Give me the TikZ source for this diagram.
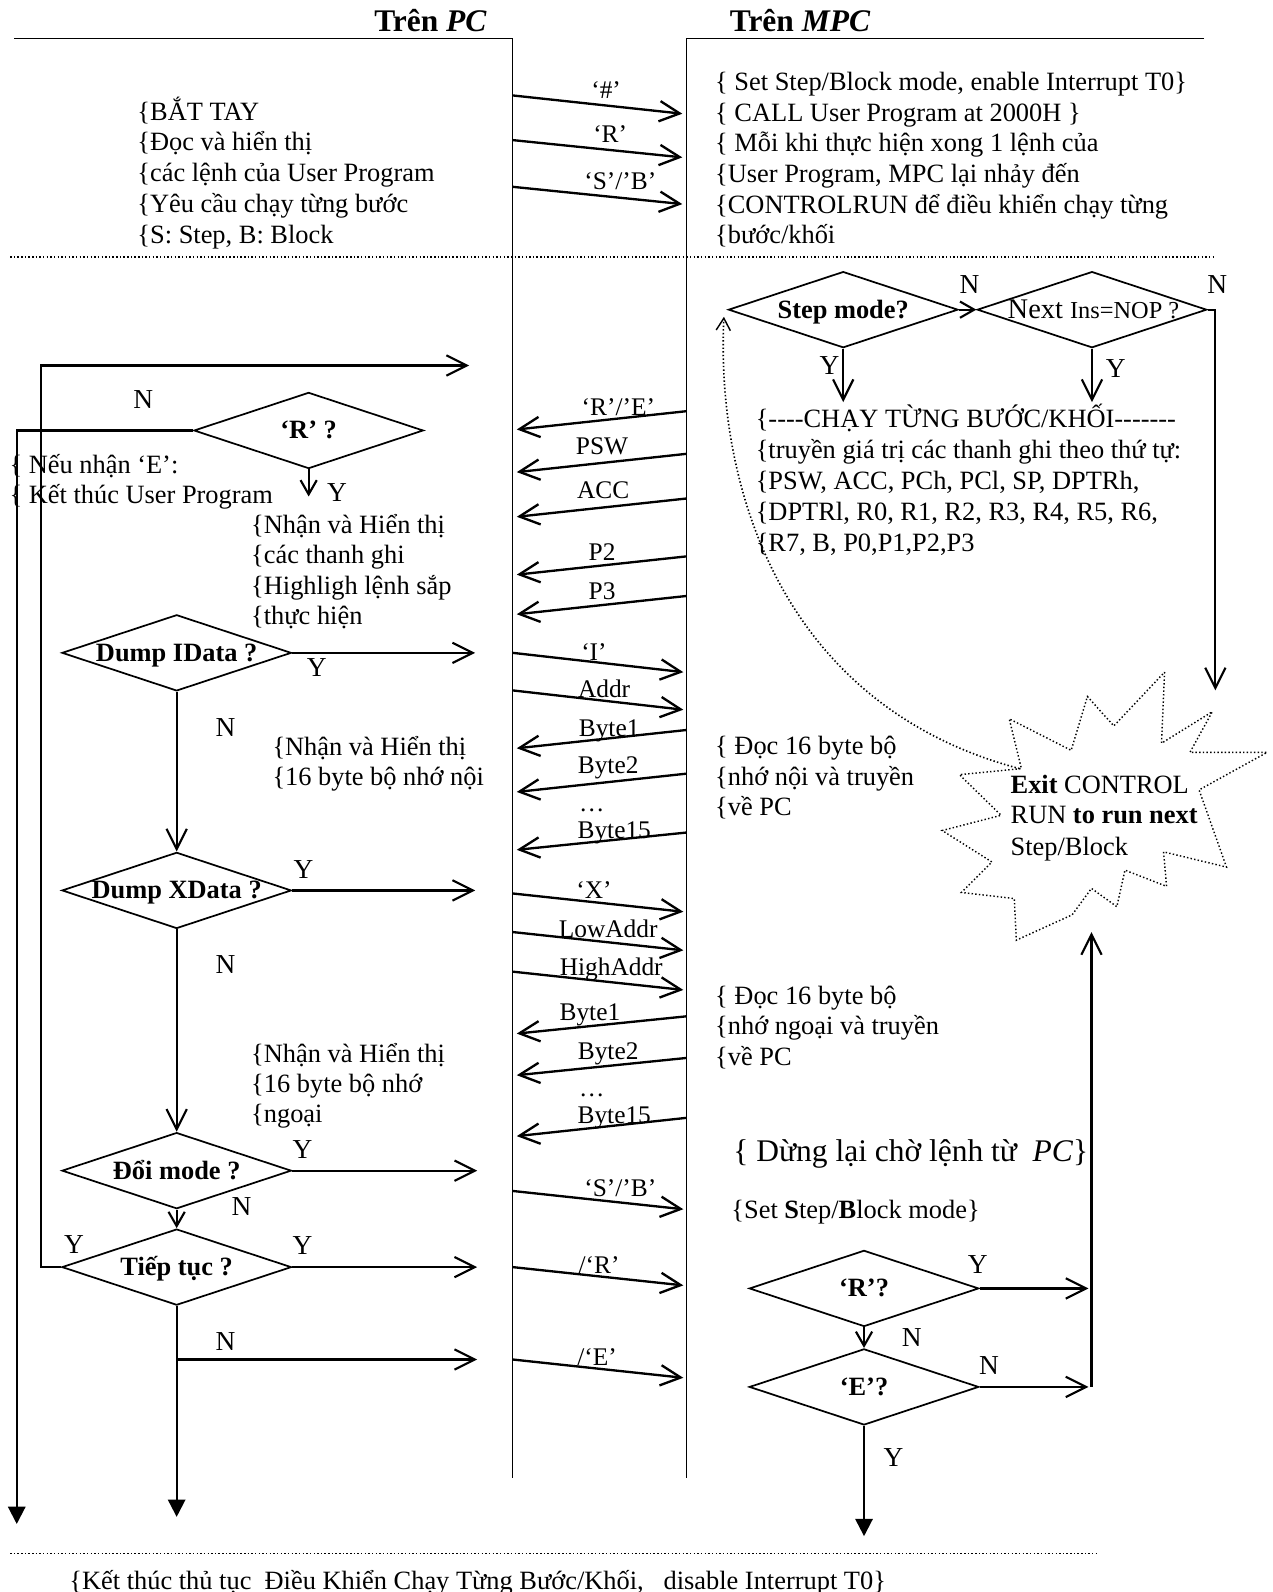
\documentclass[tikz,border=0pt]{standalone}
\usepackage{fontspec}
\setmainfont{Liberation Serif}
\usetikzlibrary{arrows.meta,shapes.geometric}
\newcommand\dsh{\hbox{-}}
\begin{document}
\begin{tikzpicture}[x=0.5pt,y=-0.5pt,
  every node/.style={inner sep=0pt},
  tl/.style={font=\fontsize{13}{15}\selectfont,anchor=west,text height=10.5pt,text depth=2.2pt},
  lab/.style={font=\fontsize{12.5}{15}\selectfont,text height=10.2pt,text depth=2.1pt},
  yn/.style={font=\fontsize{13.5}{15}\selectfont,text height=10.5pt,text depth=2.1pt},
  dia/.style={draw,diamond,minimum width=113pt,minimum height=37.5pt,line width=0.85pt},
  dtext/.style={font=\bfseries\fontsize{13}{15}\selectfont,text height=10.5pt,text depth=2.2pt},
  life/.style={line width=0.65pt},
  msg/.style={line width=1.15pt,-{Straight Barb[length=10pt,width=10pt]}},
  flow/.style={line width=1.05pt},
  farr/.style={flow,-{Straight Barb[length=10pt,width=10pt]}},
  sarr/.style={flow,-{Straight Barb[length=7pt,width=8pt]}},
  tarr/.style={flow,-{Triangle[length=8.5pt,width=8.5pt]}},
  dots/.style={line width=0.7pt,dash pattern=on 0.7pt off 1.1pt},
]
\useasboundingbox (0,0) rectangle (1253,1568);

% headers and lifelines
\node[font=\bfseries\fontsize{15.5}{18}\selectfont] (h1) at (424,20) {Trên \textit{PC}};
\node[font=\bfseries\fontsize{15.5}{18}\selectfont] (h2) at (788,20) {Trên \textit{MPC}};
\coordinate (pl0) at (14,38); \coordinate (pl1) at (505,38); \coordinate (pl2) at (505,1456);
\coordinate (ml0) at (1186,38); \coordinate (ml1) at (676,38); \coordinate (ml2) at (676,1456);
\draw[life] (pl0) -- (pl1) -- (pl2);
\draw[life] (ml0) -- (ml1) -- (ml2);
\coordinate (dl0) at (10,253); \coordinate (dl1) at (1197,253);
\coordinate (dl2) at (10,1530); \coordinate (dl3) at (1080,1530);
\draw[dots] (dl0) -- (dl1);
\draw[dots] (dl2) -- (dl3);

% top text blocks
\foreach \t [count=\i] in {{\{BẮT TAY},{\{Đọc và hiển thị},{\{các lệnh của User Program},{\{Yêu cầu chạy từng bước},{\{S: Step, B: Block}}
  \node[tl] (ta\i) at (135,{110+30.3*(\i-1)}) {\t};
\foreach \t [count=\i] in {{\{ Set Step/Block mode, enable Interrupt T0\}},{\{ CALL User Program at 2000H \}},{\{ Mỗi khi thực hiện xong 1 lệnh của},{\{User Program, MPC lại nhảy đến},{\{CONTROLRUN để điều khiển chạy từng},{\{bước/khối}}
  \node[tl] (tb\i) at (704,{81+30.2*(\i-1)}) {\t};

% top messages
\coordinate (m1a) at (505,94);  \coordinate (m1b) at (672,112);
\coordinate (m2a) at (505,138); \coordinate (m2b) at (672,155);
\coordinate (m3a) at (505,184); \coordinate (m3b) at (672,201);
\draw[msg] (m1a) -- (m1b); \node[lab] (l1) at (597,89) {‘\#’};
\draw[msg] (m2a) -- (m2b); \node[lab] (l2) at (601,132) {‘R’};
\draw[msg] (m3a) -- (m3b); \node[lab] (l3) at (611,179) {‘S’/’B’};

% ---------- MPC side, section 2
\node[dia] (sm) at (830.5,305) {};
\node[dtext] (smt) at (sm) {Step mode?};
\node[dia] (nx) at (1075.5,305) {};
\node[text height=10.5pt,text depth=2.2pt] (nxt) at (1077,305) {\fontsize{14}{16}\selectfont Next \fontsize{12}{14}\selectfont Ins=NOP ?};
\draw[sarr] (sm.east) -- (nx.west);
\node[yn] (n1) at (955,281) {N};
\node[yn] (n2) at (1199,281) {N};
\coordinate (smY) at (830.5,396);
\coordinate (nxY) at (1075.5,396);
\coordinate (nxN) at (1197,680);
\draw[farr] (sm.south) -- (smY); \node[yn] (y1) at (817,360) {Y};
\draw[farr] (nx.south) -- (nxY); \node[yn] (y2) at (1099,363) {Y};
\draw[farr] (nx.east) -| (nxN);
\foreach \t [count=\i] in {{\{\dsh\dsh\dsh\dsh CHẠY TỪNG BƯỚC/KHỐI\dsh\dsh\dsh\dsh\dsh\dsh\dsh},{\{truyền giá trị các thanh ghi theo thứ tự:},{\{PSW, ACC, PCh, PCl, SP, DPTRh,},{\{DPTRl, R0, R1, R2, R3, R4, R5, R6,},{\{R7, B, P0,P1,P2,P3}}
  \node[tl] (tc\i) at (744,{413+30.4*(\i-1)}) {\t};

% ---------- PC side, section 2
\coordinate (loopEnd) at (462,360);
\node[dia] (pr) at (304,424) {};
\node[dtext] (prt) at (pr) {‘R’ ?};
\node[yn] (n3) at (141,394) {N};
\coordinate (prY) at (304,489);
\draw[sarr] (pr.south) -- (prY); \node[yn] (y3) at (332,486) {Y};
\coordinate (leftEnd) at (16.5,1501);
\draw[tarr] (pr.west) -| (leftEnd);
\node[tl] (td1) at (9,458) {\{ Nếu nhận ‘E’:};
\node[tl] (td2) at (9,488) {\{ Kết thúc User Program};
\foreach \t [count=\i] in {{\{Nhận và Hiển thị},{\{các thanh ghi},{\{Highligh lệnh sắp},{\{thực hiện}}
  \node[tl] (te\i) at (247,{517+30*(\i-1)}) {\t};

% MPC -> PC register messages
\foreach \ya/\yb/\lx/\ly/\t [count=\i] in {405/423/609/401/{‘R’/’E’},447/465/593/440/{PSW},491/509/594/483/{ACC},548/566/593/544/{P2},587/605/593/582/{P3}}{
  \coordinate (ra\i) at (676,\ya); \coordinate (rb\i) at (509,\yb);
  \draw[msg] (ra\i) -- (rb\i);
  \node[lab] (rl\i) at (\lx,\ly) {\t};
}

% Dump IData
\node[dia] (d1) at (174,643) {};
\node[dtext] (d1t) at (d1) {Dump IData ?};
\coordinate (d1Y) at (468,643);
\draw[farr] (d1.east) -- (d1Y); \node[yn] (y4) at (312,658) {Y};
\node[yn] (n4) at (222,717) {N};
\foreach \ya/\yb/\lx/\ly/\t [count=\i] in {643/662/585/642/{‘I’},680/699/595/679/{Addr}}{
  \coordinate (ia\i) at (505,\ya); \coordinate (ib\i) at (673,\yb);
  \draw[msg] (ia\i) -- (ib\i);
  \node[lab] (il\i) at (\lx,\ly) {\t};
}
\foreach \ya/\yb/\lx/\ly/\t [count=\i] in {719/737/600/717/{Byte1},762/780/599/754/{Byte2},820/837/605/818/{Byte15}}{
  \coordinate (ja\i) at (676,\ya); \coordinate (jb\i) at (509,\yb);
  \draw[msg] (ja\i) -- (jb\i);
  \node[lab] (jl\i) at (\lx,\ly) {\t};
}
\node[lab] (dt1) at (583,791) {…};
\node[tl] (tf1) at (268,736) {\{Nhận và Hiển thị};
\node[tl] (tf2) at (268,765) {\{16 byte bộ nhớ nội};
\foreach \t [count=\i] in {{\{ Đọc 16 byte bộ},{\{nhớ nội và truyền},{\{về PC}}
  \node[tl] (tg\i) at (704,{735+30*(\i-1)}) {\t};

% Dump XData
\node[dia] (d2) at (174,877) {};
\node[dtext] (d2t) at (d2) {Dump XData ?};
\coordinate (d2Y) at (468,877);
\draw[farr] (d2.east) -- (d2Y); \node[yn] (y5) at (299,857) {Y};
\node[yn] (n5) at (222,950) {N};
\draw[farr] (d1.south) -- (d2.north);
\foreach \ya/\yb/\lx/\ly/\t [count=\i] in {880/898/585/877/{‘X’},918/936/599/915/{LowAddr},957/975/602/953/{HighAddr}}{
  \coordinate (xa\i) at (505,\ya); \coordinate (xb\i) at (673,\yb);
  \draw[msg] (xa\i) -- (xb\i);
  \node[lab] (xl\i) at (\lx,\ly) {\t};
}
\foreach \ya/\yb/\lx/\ly/\t [count=\i] in {1001/1018/581/997/{Byte1},1042/1059/599/1035/{Byte2},1101/1119/605/1098/{Byte15}}{
  \coordinate (ka\i) at (676,\ya); \coordinate (kb\i) at (509,\yb);
  \draw[msg] (ka\i) -- (kb\i);
  \node[lab] (kl\i) at (\lx,\ly) {\t};
}
\node[lab] (dt2) at (583,1072) {…};
\foreach \t [count=\i] in {{\{Nhận và Hiển thị},{\{16 byte bộ nhớ},{\{ngoại}}
  \node[tl] (th\i) at (247,{1038+29.5*(\i-1)}) {\t};
\foreach \t [count=\i] in {{\{ Đọc 16 byte bộ},{\{nhớ ngoại và truyền},{\{về PC}}
  \node[tl] (ti\i) at (704,{981+30*(\i-1)}) {\t};

% Doi mode / Tiep tuc
\node[dia] (d3) at (174,1153) {};
\node[dtext] (d3t) at (d3) {Đổi mode ?};
\coordinate (d3Y) at (470,1153);
\draw[farr] (d3.east) -- (d3Y); \node[yn] (y6) at (298,1133) {Y};
\draw[farr] (d2.south) -- (d3.north);
\node[dia] (tt) at (174,1248) {};
\node[dtext] (ttt) at (tt) {Tiếp tục ?};
\draw[sarr] (d3.south) -- (tt.north); \node[yn] (n6) at (238,1189) {N};
\coordinate (ttY) at (470,1248);
\draw[farr] (tt.east) -- (ttY); \node[yn] (y7) at (298,1227) {Y};
\node[yn] (y8) at (73,1226) {Y};
\draw[farr] (tt.west) -- ++(-19.5,0) |- (loopEnd);
\coordinate (ttEnd) at (174,1494);
\draw[tarr] (tt.south) -- (ttEnd);
\coordinate (brA) at (174,1339); \coordinate (brB) at (470,1339);
\draw[farr] (brA) -- (brB); \node[yn] (n7) at (222,1322) {N};
\foreach \ya/\yb/\lx/\ly/\t [count=\i] in {1173/1191/611/1170/{‘S’/’B’},1248/1266/590/1246/{/‘R’},1339/1357/588/1337/{/‘E’}}{
  \coordinate (sa\i) at (505,\ya); \coordinate (sb\i) at (673,\yb);
  \draw[msg] (sa\i) -- (sb\i);
  \node[lab] (sl\i) at (\lx,\ly) {\t};
}

% starburst
\draw[dots] (1147,662) -- (1144,732) -- (1194,701) -- (1172,741) -- (1248,741) -- (1181,778) -- (1208,854) -- (1146,839) -- (1149,873) -- (1108,857) -- (1100,893) -- (1075,875) -- (1056,901) -- (1001,926) -- (999,885) -- (947,879) -- (977,849) -- (928,818) -- (986,803) -- (945,763) -- (1006,757) -- (994,708) -- (1055,739) -- (1071,686) -- (1097,715) -- cycle;
\node[tl] (sb1) at (995,773) {\textbf{Exit} CONTROL};
\node[tl] (sb2) at (995,803) {RUN \textbf{to run next}};
\node[tl] (sb3) at (995,834) {Step/Block};
\coordinate (cvA) at (1004,757); \coordinate (cvB) at (713,312);
\draw[dots,line width=0.8pt,-{Straight Barb[length=6pt,width=7pt,line width=0.7pt]}] (cvA) .. controls (770,695) and (705,480) .. (cvB);

% MPC bottom
\node[tl,font=\fontsize{15.5}{18}\selectfont] (tw) at (722,1136) {\{ Dừng lại chờ lệnh từ\ \ \textit{PC}\}};
\node[tl] (tx) at (720,1192) {\{Set \textbf{S}tep/\textbf{B}lock mode\}};
\node[dia] (mr) at (851,1269) {};
\node[dtext] (mrt) at (mr) {‘R’?};
\coordinate (mrY) at (1072,1269);
\draw[farr] (mr.east) -- (mrY); \node[yn] (y9) at (963,1246) {Y};
\node[dia] (me) at (851,1366) {};
\node[dtext] (met) at (me) {‘E’?};
\draw[sarr] (mr.south) -- (me.north); \node[yn] (n8) at (898,1318) {N};
\coordinate (meN) at (1072,1366);
\draw[farr] (me.east) -- (meN); \node[yn] (n9) at (974,1345) {N};
\coordinate (vB) at (1075,1366); \coordinate (vT) at (1075,918);
\draw[farr] (vB) -- (vT);
\coordinate (meY) at (851,1513);
\draw[tarr] (me.south) -- (meY); \node[yn] (y10) at (880,1436) {Y};

% bottom text
\node[tl] (bt) at (68,1557) {\{Kết thúc thủ tục\ \ Điều Khiển Chạy Từng Bước/Khối,\ \ \ disable Interrupt T0\}};
\end{tikzpicture}
\end{document}
